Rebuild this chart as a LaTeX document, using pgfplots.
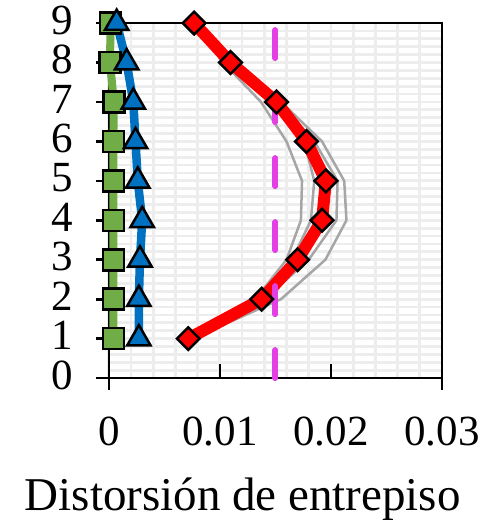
\documentclass[border=0pt]{standalone}
\usepackage{pgfplots}
\pgfplotsset{compat=1.18}
\usepackage{fontspec}
\setmainfont{Liberation Serif}
\definecolor{cgreen}{HTML}{70AD47}
\definecolor{cblue}{HTML}{0070C0}
\definecolor{cred}{HTML}{FF0000}
\definecolor{cgray}{HTML}{A6A6A6}
\definecolor{cmag}{RGB}{226,64,226}
\definecolor{cgrid}{HTML}{EDEDED}
\begin{document}
\begin{tikzpicture}
\begin{axis}[
  scale only axis, width=333pt, height=355pt,
  xmin=0, xmax=0.03, ymin=0, ymax=9,
  scaled x ticks=false,
  xtick={0,0.01,0.02,0.03}, xticklabels={0,0.01,0.02,0.03},
  ytick={0,1,...,9},
  minor xtick={0,0.002,...,0.0301},
  minor ytick={0,0.2,...,9.01},
  minor tick length=0pt,
  grid=both,
  major grid style={draw=cgrid, line width=2.8pt},
  minor grid style={draw=cgrid, line width=2.8pt},
  axis line style={line width=2.7pt, black},
  tick style={line width=2.7pt, black},
  tick align=outside, major tick length=13pt,
  xtick style={yshift=14pt},
  xtick pos=bottom, ytick pos=left,
  /pgf/number format/assume math mode=true,
  ticklabel style={font=\fontsize{43}{44}\selectfont},
  yticklabel style={xshift=-19pt, yshift=3pt},
  xticklabel style={yshift=-22pt},
  xlabel={Distorsión de entrepiso},
  xlabel style={font=\fontsize{47}{50}\selectfont, at={(rel axis cs:0.402,-0.372)}, anchor=base},
  clip=false,
]
\path (rel axis cs:-0.327,-0.411) rectangle (rel axis cs:1.135,1.065);
\draw[line width=2.7pt] (rel axis cs:0,0) -- ++(0,-12pt);
\draw[line width=2.7pt] (rel axis cs:1,0) -- ++(0,-12pt);
% green squares
\addplot[color=cgreen, line width=8pt, mark=square*, mark size=10.5pt,
  mark options={fill=cgreen, draw=black, line width=2.5pt}]
  coordinates {(0.0004,1)(0.0004,2)(0.0004,3)(0.0004,4)(0.0004,5)(0.0004,6)(0.00045,7)(0.0001,8)(0.00015,9)};
% blue triangles
\addplot[color=cblue, line width=8.5pt, mark=triangle*, mark size=13.5pt,
  mark options={fill=cblue, draw=black, line width=2.5pt}]
  coordinates {(0.0027,1)(0.0027,2)(0.0028,3)(0.0030,4)(0.0026,5)(0.0024,6)(0.0022,7)(0.0016,8)(0.0007,9)};
% gray records
\addplot[color=cgray, line width=2.5pt, no marks] coordinates {(0.0071,1)(0.0132,2)(0.0160,3)(0.0173,4)(0.0174,5)(0.0160,6)(0.0137,7)(0.0103,8)(0.0076,9)};
\addplot[color=cgray, line width=2.5pt, no marks] coordinates {(0.0072,1)(0.0136,2)(0.0165,3)(0.0182,4)(0.0185,5)(0.0176,6)(0.0148,7)(0.0108,8)(0.0077,9)};
\addplot[color=cgray, line width=2.5pt, no marks] coordinates {(0.0072,1)(0.0140,2)(0.0180,3)(0.0205,4)(0.0206,5)(0.0185,6)(0.0153,7)(0.0110,8)(0.0077,9)};
\addplot[color=cgray, line width=2.5pt, no marks] coordinates {(0.0075,1)(0.0155,2)(0.0195,3)(0.0214,4)(0.0212,5)(0.0192,6)(0.0155,7)(0.0112,8)(0.0078,9)};
% red mean
\addplot[color=cred, line width=12pt, mark=square*, mark size=8pt,
  mark options={fill=cred, draw=black, line width=2.5pt, rotate=45}]
  coordinates {(0.00715,1)(0.01376,2)(0.0170,3)(0.0192,4)(0.01955,5)(0.0178,6)(0.0151,7)(0.01096,8)(0.00768,9)};
% limit
\addplot[color=cmag, line width=6pt, line cap=round, dash pattern=on 28pt off 36pt, dash phase=57pt, no marks]
  coordinates {(0.015,9)(0.015,0)};
\end{axis}
\end{tikzpicture}
\end{document}
